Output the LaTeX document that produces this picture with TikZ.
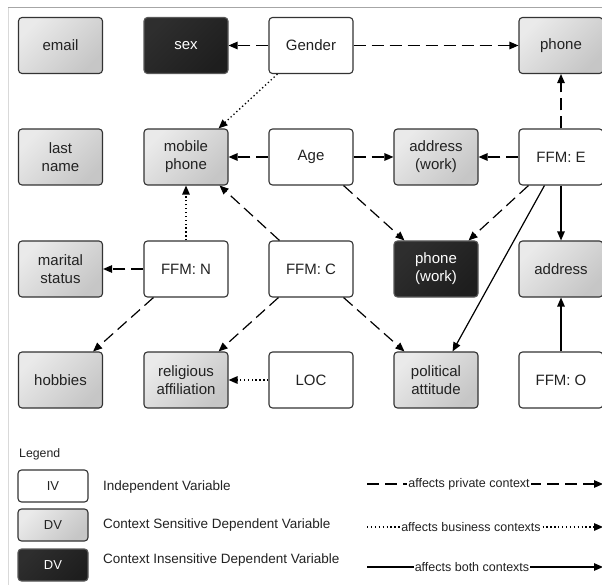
\documentclass[tikz,border=0pt]{standalone}
\usepackage{fontspec}
\setmainfont{Liberation Sans}
\usetikzlibrary{arrows.meta}
\definecolor{edge}{HTML}{333333}
\definecolor{dvlight}{HTML}{EAEAEA}
\definecolor{dvdark}{HTML}{C6C6C6}
\definecolor{cidark}{HTML}{1E1E1E}
\definecolor{cilight}{HTML}{2E2E2E}
\definecolor{txt}{HTML}{222222}
\tikzset{
  box/.style={rectangle, rounded corners=3.5pt, minimum width=84pt, minimum height=56pt,
    line width=1.1pt, draw=edge, align=center, text=txt,
    font=\fontsize{15}{18}\selectfont, inner sep=2pt},
  iv/.style={box, fill=white},
  dv/.style={box, top color=dvlight, bottom color=dvdark, shading angle=45},
  ci/.style={box, draw=black!65, top color=cilight, bottom color=cidark, shading angle=45, text=white},
  lbox/.style={minimum width=70pt, minimum height=32pt, font=\fontsize{13}{15}\selectfont},
  ltext/.style={anchor=west, inner sep=0pt, text=txt, font=\fontsize{13.5}{16}\selectfont},
  llabel/.style={fill=white, inner sep=1pt, text=txt, font=\fontsize{12.5}{14}\selectfont},
  tip/.style={-{Triangle[length=9pt,width=7.5pt]}},
  priv/.style={tip, line width=1.2pt, dash pattern=on 12pt off 6pt, draw=black},
  bus/.style={tip, line width=1.3pt, dash pattern=on 1.3pt off 2.6pt, draw=black},
  both/.style={tip, line width=1.2pt, draw=black},
}
\begin{document}
\begin{tikzpicture}[x=1pt,y=-1pt]
\useasboundingbox (0,0) rectangle (602,585);
\fill[white] (0,0) rectangle (602,585);
\draw[black!35, line width=1pt] (8,8) -- (602,8);
\draw[black!15, line width=1pt] (8,8) -- (8,585);

% row 1
\node[dv] (email) at (60.5,45.5) {email};
\node[ci] (sex) at (186,45.5) {sex};
\node[iv] (gender) at (311,45.5) {Gender};
\node[dv] (phone) at (561,45.5) {phone};
% row 2
\node[dv] (last) at (60.5,157) {last\\name};
\node[dv] (mobile) at (186,157) {mobile\\phone};
\node[iv] (age) at (311,157) {Age};
\node[dv] (addrw) at (436,157) {address\\(work)};
\node[iv] (ffme) at (561,157) {FFM: E};
% row 3
\node[dv] (marital) at (60.5,269) {marital\\status};
\node[iv] (ffmn) at (186,269) {FFM: N};
\node[iv] (ffmc) at (311,269) {FFM: C};
\node[ci] (phonew) at (436,269) {phone\\(work)};
\node[dv] (addr) at (561,269) {address};
% row 4
\node[dv] (hobbies) at (60.5,380) {hobbies};
\node[dv] (relig) at (186,380) {religious\\affiliation};
\node[iv] (loc) at (311,380) {LOC};
\node[dv] (polit) at (436,380) {political\\attitude};
\node[iv] (ffmo) at (561,380) {FFM: O};

% connectors
\draw[priv] (gender.west) -- (sex.east);
\draw[priv] (gender.east) -- (phone.west);
\draw[bus] ([xshift=9pt]gender.south west) -- ([xshift=-10pt]mobile.north east);
\draw[priv] (age.west) -- (mobile.east);
\draw[priv] (age.east) -- (addrw.west);
\draw[priv] (ffme.west) -- (addrw.east);
\draw[priv] (ffme.north) -- (phone.south);
\draw[priv] ([xshift=-10pt]age.south east) -- ([xshift=11pt]phonew.north west);
\draw[priv] ([xshift=10pt]ffme.south west) -- ([xshift=-10pt]phonew.north east);
\draw[both] ([xshift=26pt]ffme.south west) -- ([xshift=-26pt]polit.north east);
\draw[both] (ffme.south) -- (addr.north);
\draw[both] (ffmo.north) -- (addr.south);
\draw[bus] (ffmn.north) -- (mobile.south);
\draw[priv] ([xshift=11pt]ffmc.north west) -- ([xshift=-9pt]mobile.south east);
\draw[priv] (ffmn.west) -- (marital.east);
\draw[priv] ([xshift=10pt]ffmn.south west) -- ([xshift=-10pt]hobbies.north east);
\draw[priv] ([xshift=10pt]ffmc.south west) -- ([xshift=-10pt]relig.north east);
\draw[priv] ([xshift=-10pt]ffmc.south east) -- ([xshift=11pt]polit.north west);
\draw[bus] (loc.west) -- (relig.east);

% legend
\node[anchor=west, inner sep=0pt, text=txt, font=\fontsize{12.3}{14}\selectfont] (legend) at (19,454) {Legend};
\node[iv, lbox] (kiv) at (53,486) {IV};
\node[dv, lbox] (kdv) at (53,525) {DV};
\node[ci, lbox] (kci) at (53,565) {DV};
\node[ltext] (tiv) at (103,487) {Independent Variable};
\node[ltext] (tdv) at (103,525) {Context Sensitive Dependent Variable};
\node[ltext] (tci) at (103,560) {Context Insensitive Dependent Variable};

\coordinate (p1) at (367,484); \coordinate (p2) at (603,484);
\coordinate (b1) at (367,527); \coordinate (b2) at (603,527);
\coordinate (s1) at (367,567); \coordinate (s2) at (603,567);
\draw[priv] (p1) -- (p2);
\draw[bus] (b1) -- (b2);
\draw[both] (s1) -- (s2);
\node[llabel] (lp) at (469,484) {affects private context};
\node[llabel] (lb) at (471,527) {affects business contexts};
\node[llabel] (ls) at (472,567) {affects both contexts};
\end{tikzpicture}
\end{document}
